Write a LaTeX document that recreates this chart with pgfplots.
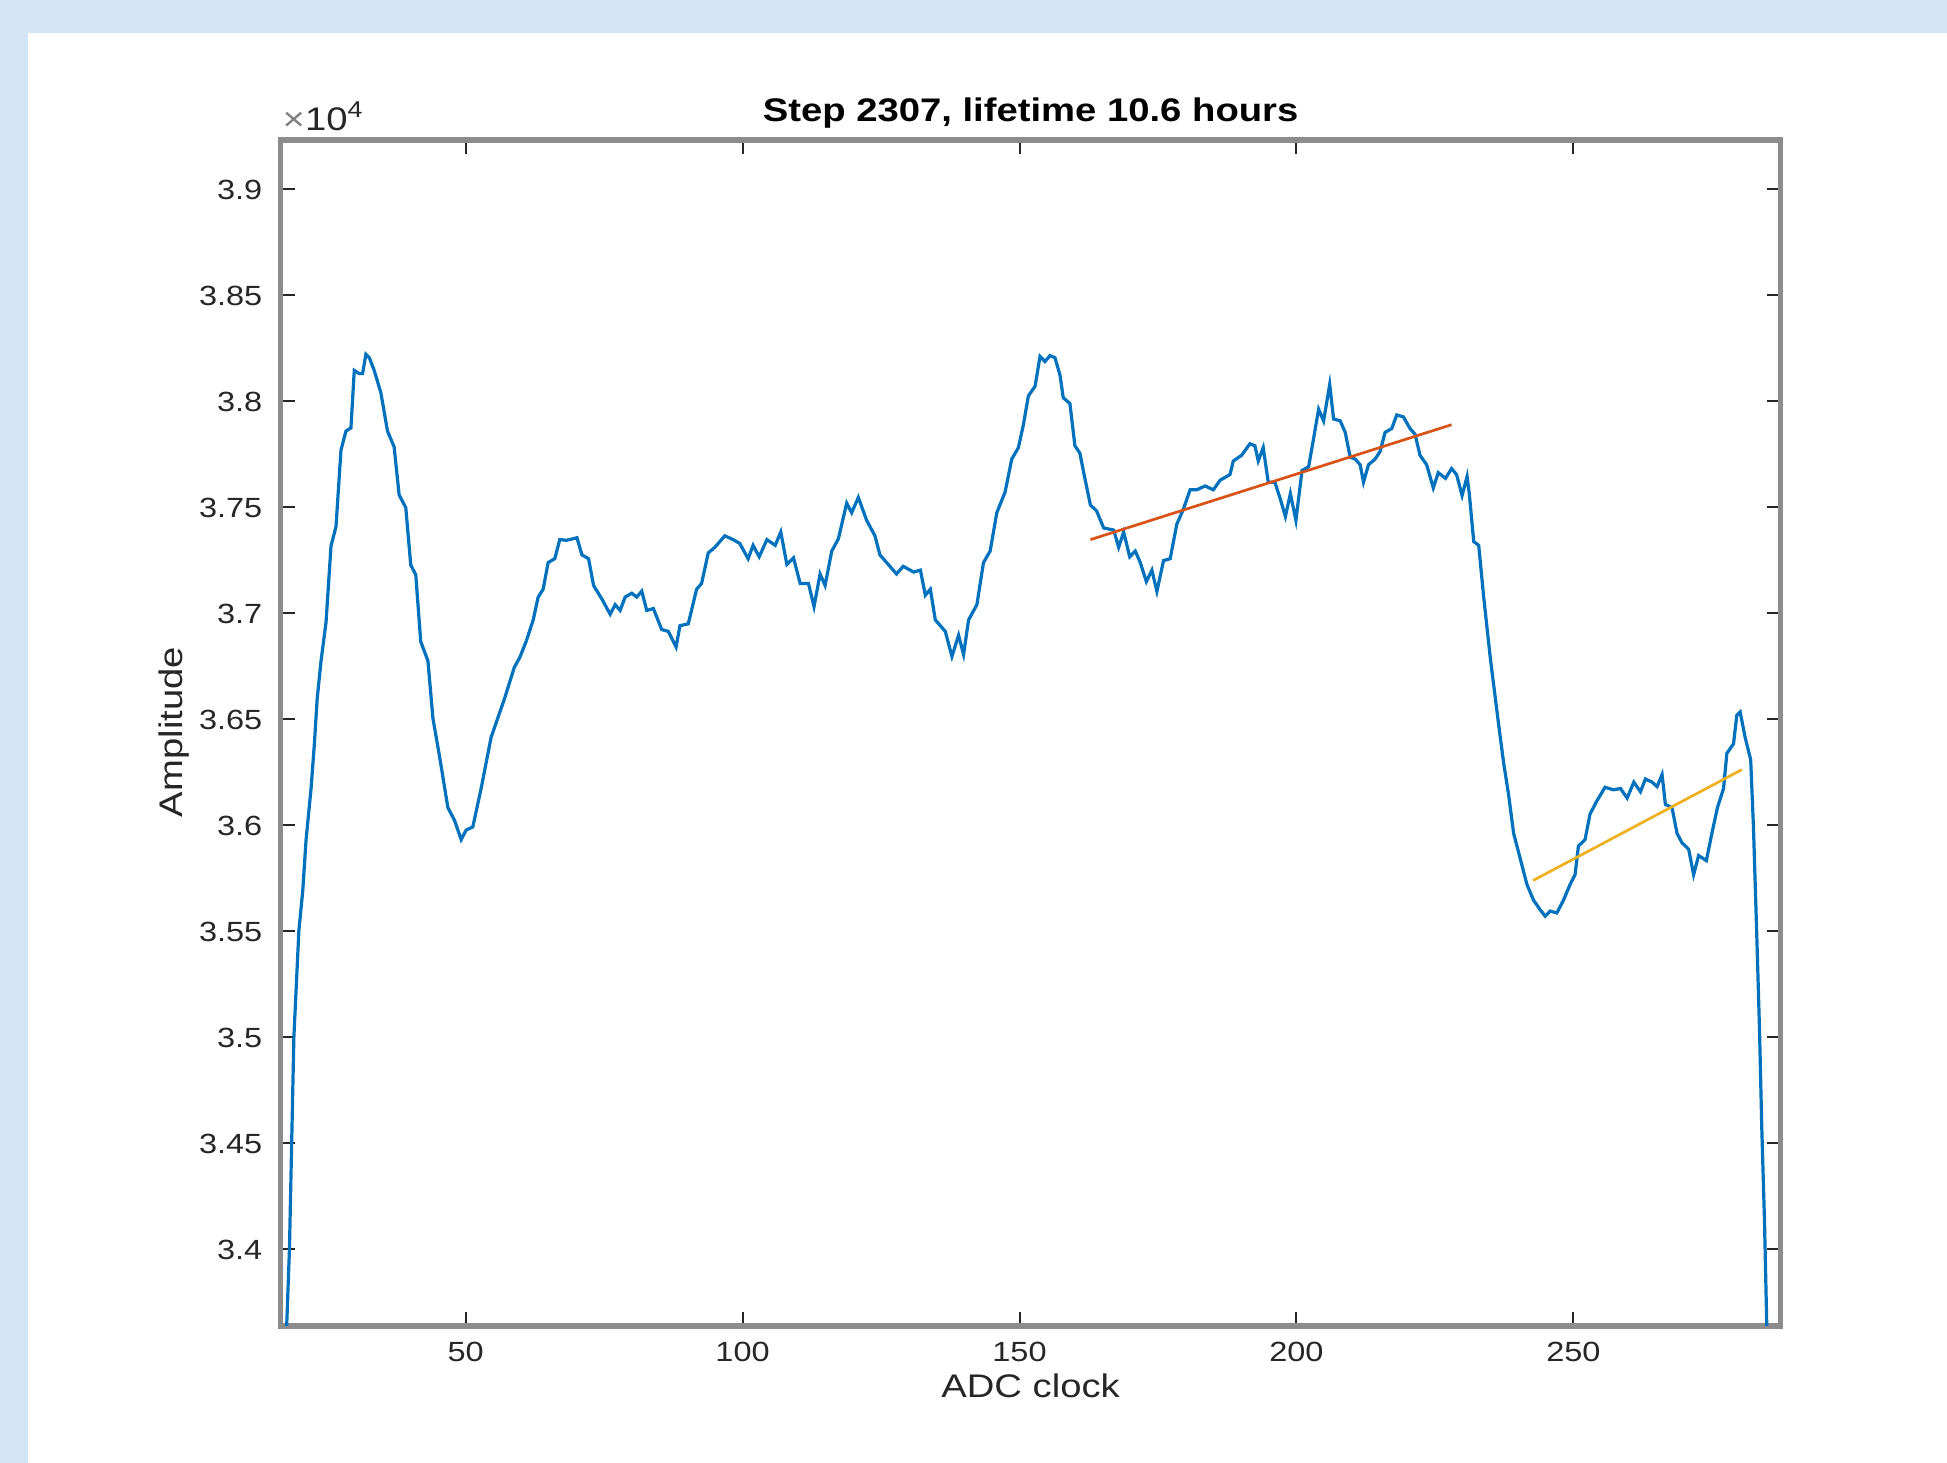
\documentclass[border=0pt]{standalone}
\usepackage{fontspec}
\setmainfont{Liberation Sans}[FakeStretch=1.17]
\usepackage{pgfplots}
\pgfplotsset{compat=1.18}
\definecolor{bgblue}{RGB}{210,228,246}
\definecolor{axc}{RGB}{140,140,140}
\definecolor{txtc}{RGB}{38,38,38}
\definecolor{mblue}{RGB}{0,114,189}
\definecolor{morange}{RGB}{217,83,25}
\definecolor{myellow}{RGB}{237,177,32}
\newcommand{\ticksize}{\fontsize{7.9}{10}\selectfont}
\newcommand{\labsize}{\fontsize{9.3}{11}\selectfont}
\begin{document}
\begin{tikzpicture}
\path[use as bounding box] (0,0) rectangle (19.47,14.63);
\fill[bgblue] (0,0) rectangle (19.47,14.63);
\fill[white] (0.277,0) rectangle (19.47,14.297);
\begin{axis}[
  at={(2.806cm,1.37cm)}, anchor=south west,
  scale only axis, width=15cm, height=11.86cm,
  xmin=16.6, xmax=287.4, ymin=33636, ymax=39230,
  xtick={50,100,150,200,250}, xticklabels={50,100,150,200,250},
  ytick={34000,34500,35000,35500,36000,36500,37000,37500,38000,38500,39000},
  yticklabels={3.4,3.45,3.5,3.55,3.6,3.65,3.7,3.75,3.8,3.85,3.9},
  scaled y ticks=false, scaled x ticks=false,
  tick align=inside, major tick length=0.14cm,
  every tick/.style={line width=0.2mm, color=txtc},
  axis line style={line width=0.55mm, color=axc},
  xticklabel style={font=\ticksize, text=txtc, anchor=north, inner sep=0pt, yshift=-0.15cm},
  yticklabel style={font=\ticksize, text=txtc, anchor=east, inner sep=0pt, xshift=-0.176cm, yshift=-0.01cm},
]
\addplot[mblue, line width=0.32mm] coordinates {
(17,33200) (17.7,33637) (18.2,34000) (18.6,34500) (19.0,35000) (19.9,35500)
(20.6,35689) (21.2,35930) (22.1,36171) (22.7,36382) (23.2,36593) (23.9,36773)
(24.8,36954) (25.7,37315) (26.6,37406) (27.5,37767) (28.4,37857) (29.3,37872)
(29.9,38143) (30.8,38128) (31.4,38128) (32.0,38219) (32.6,38204) (33.5,38143)
(34.7,38038) (35.9,37857) (37.1,37782) (38.0,37556) (39.2,37496) (40.1,37225)
(41.0,37180) (41.9,36864) (43.2,36773) (44.1,36502) (45.3,36322) (46.8,36081)
(48.0,36021) (49.2,35930) (50.1,35975) (51.3,35990) (52.8,36171) (54.6,36412)
(57.0,36593) (58.8,36743) (59.8,36790) (61.0,36870) (62.2,36966) (63.1,37074)
(64.0,37111) (64.9,37237) (66.1,37255) (67.0,37345) (68.2,37342) (69.4,37349)
(70.1,37354) (71.0,37273) (72.2,37255) (73.1,37129) (74.6,37065) (76.1,36993)
(77.0,37038) (77.9,37011) (78.8,37074) (80.0,37092) (80.9,37074) (81.8,37102)
(82.7,37011) (83.9,37020) (85.4,36921) (86.6,36912) (88.0,36839) (88.7,36939)
(90.2,36948) (91.7,37111) (92.6,37138) (93.8,37282) (95.0,37309) (96.8,37363)
(98.3,37345) (99.5,37327) (101.0,37255) (101.9,37318) (103.0,37264) (104.4,37345)
(105.9,37318) (106.9,37381) (108.0,37228) (109.2,37259) (110.4,37138) (111.9,37138)
(112.9,37029) (114.0,37183) (114.9,37129) (116.1,37291) (117.3,37349) (118.8,37517)
(119.7,37472) (120.9,37544) (122.4,37436) (123.9,37363) (124.8,37273) (126.3,37228)
(127.8,37183) (129.0,37219) (130.9,37192) (132.1,37201) (133.0,37083) (133.9,37111)
(134.8,36966) (136.6,36912) (137.8,36794) (139.0,36894) (139.9,36803) (140.8,36966)
(142.3,37038) (143.5,37237) (144.7,37291) (145.9,37472) (147.4,37570) (148.6,37725)
(149.8,37779) (150.7,37887) (151.6,38023) (152.8,38068) (153.7,38209) (154.6,38185)
(155.5,38213) (156.4,38203) (157.3,38122) (157.9,38014) (159.1,37987) (160.0,37788)
(160.9,37752) (161.8,37634) (162.8,37508) (163.9,37481) (165.2,37400) (167.0,37390)
(167.9,37309) (168.8,37381) (169.9,37264) (170.9,37291) (171.8,37237) (172.9,37147)
(173.9,37201) (174.8,37101) (176.0,37246) (177.2,37255) (178.4,37418) (179.6,37490)
(180.8,37580) (182.0,37580) (183.5,37598) (185.0,37580) (186.2,37625) (188.0,37652)
(188.6,37716) (190.1,37743) (191.6,37797) (192.5,37788) (193.1,37716) (194.0,37779)
(194.9,37616) (196.1,37616) (197.1,37535) (198.0,37454) (198.9,37562) (199.9,37436)
(201.0,37671) (202.2,37689) (203.1,37824) (204.0,37960) (204.9,37905) (206.0,38077)
(206.7,37914) (207.9,37905) (208.8,37851) (209.7,37734) (210.6,37725) (211.5,37698)
(212.1,37616) (213.0,37698) (214.2,37725) (215.1,37761) (216.0,37851) (217.2,37869)
(218.1,37933) (219.3,37924) (220.5,37869) (221.4,37842) (222.3,37743) (223.5,37698)
(224.7,37589) (225.6,37661) (226.9,37634) (228.0,37680) (228.9,37652) (229.9,37553)
(230.8,37643) (231.2,37562) (232.0,37336) (232.9,37318) (233.8,37074) (235.0,36785)
(236.5,36472) (237.4,36292) (238.3,36141) (239.2,35960) (240.4,35840) (241.6,35719)
(242.8,35644) (244.0,35599) (244.9,35569) (245.8,35593) (247.0,35584) (248.2,35644)
(249.4,35719) (250.3,35765) (250.9,35900) (252.1,35930) (253.0,36051) (254.2,36111)
(255.7,36177) (257.2,36165) (258.5,36171) (259.7,36126) (260.9,36201) (262.1,36156)
(263.0,36216) (264.2,36201) (265.1,36180) (266.0,36237) (266.6,36096) (267.8,36081)
(268.7,35960) (269.6,35915) (270.8,35885) (271.7,35765) (272.6,35855) (274.0,35831)
(275.0,35960) (276.0,36081) (277.1,36171) (277.7,36337) (278.9,36382) (279.5,36517)
(280.1,36532) (281.0,36412) (282.0,36307) (282.5,35990) (283.1,35479) (283.6,35027)
(284.0,34575) (284.5,34124) (284.9,33642) (285.5,33100)
};
\addplot[morange, line width=0.27mm] coordinates {(162.8,37345) (228.0,37887)};
\addplot[myellow, line width=0.27mm] coordinates {(242.7,35737) (280.4,36260)};
\end{axis}
\node[font=\labsize\bfseries, anchor=base, inner sep=0pt, text=black] at (10.306,13.415) {Step 2307, lifetime 10.6 hours};
\node[font=\labsize, anchor=base west, inner sep=0pt, text=txtc] at (2.82,13.32) {{\color{gray}×}10\textsuperscript{4}};
\node[font=\labsize, anchor=base, inner sep=0pt, text=txtc] at (10.306,0.655) {ADC clock};
\node[font=\labsize, anchor=base, inner sep=0pt, text=txtc, rotate=90] at (1.82,7.31) {Amplitude};
\end{tikzpicture}
\end{document}
